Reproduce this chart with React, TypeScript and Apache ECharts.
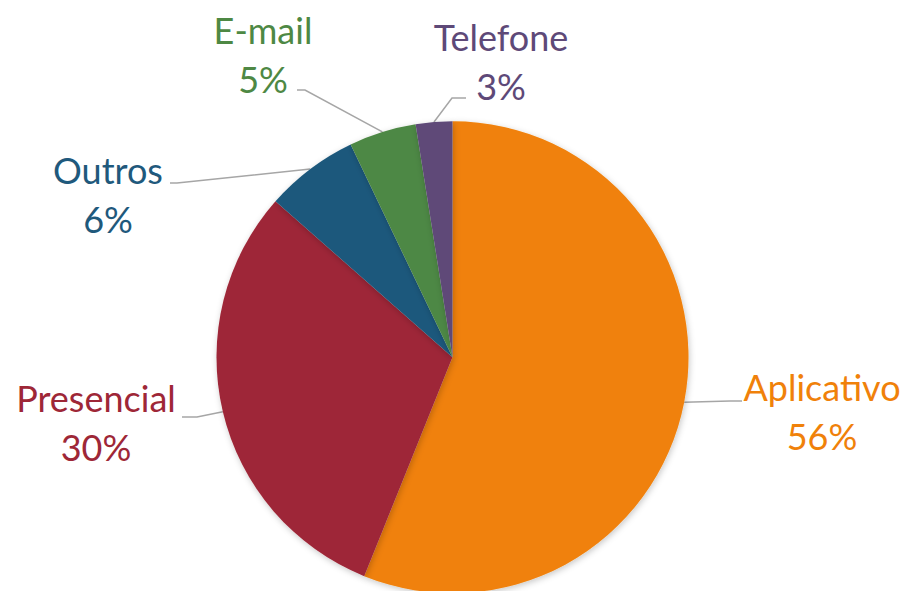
import React, { useEffect, useRef } from "react";
import * as echarts from "echarts";

const categories = ["Aplicativo", "Presencial", "Outros", "E-mail", "Telefone"];
const values = [56.1, 30.4, 6.4, 4.6, 2.5];
const colors = ["#F0810A", "#9E2737", "#1F597C", "#4E8844", "#5E4978"];

// label layout: [centerX, centerY, elbowDx, elbowDy, endDx, endDy] relative to label centre
const labelLayouts: number[][] = [
  [822, 411, -92, -10, -80, -10],
  [96, 422, 101, -5, 86, -5],
  [108, 194, 69, -11, 62, -11],
  [263, 54, 42, 36, 34, 36],
  [501, 61, -49, 37, -35, 37],
];

export default function App() {
  const ref = useRef<HTMLDivElement>(null);
  useEffect(() => {
    if (!ref.current) return;
    const chart = echarts.init(ref.current, undefined, { renderer: "svg" });
    const data = categories.map((name, i) => ({
      name,
      value: values[i],
      itemStyle: { color: colors[i] },
      label: { color: colors[i] },
    }));
    chart.setOption({
      animation: false,
      backgroundColor: "#ffffff",
      series: [
        {
          type: "pie",
          center: [452.5, 357.3],
          radius: 236,
          startAngle: 90,
          clockwise: true,
          data,
          itemStyle: {
            borderWidth: 0,
            shadowBlur: 6,
            shadowColor: "rgba(0,0,0,0.22)",
            shadowOffsetX: 1,
            shadowOffsetY: 2,
          },
          label: {
            show: true,
            formatter: (p: any) => `${p.name}\n${Math.round(p.percent)}%`,
            fontFamily: "Lato",
            fontSize: 36,
            lineHeight: 49,
            align: "center",
          },
          labelLine: {
            show: true,
            lineStyle: { color: "#A6A6A6", width: 1.5 },
          },
          labelLayout: (params: any) => {
            const l = labelLayouts[params.dataIndex];
            const pts = params.labelLinePoints;
            const start = pts && pts[0] ? [pts[0][0], pts[0][1]] : [l[0], l[1]];
            return {
              x: l[0],
              y: l[1],
              align: "center",
              verticalAlign: "middle",
              labelLinePoints: [
                start,
                [l[0] + l[2], l[1] + l[3]],
                [l[0] + l[4], l[1] + l[5]],
              ],
            };
          },
        },
      ],
    });
    return () => chart.dispose();
  }, []);
  return (
    <div
      ref={ref}
      style={{ position: "absolute", left: 0, top: 0, width: 906, height: 591 }}
    />
  );
}
